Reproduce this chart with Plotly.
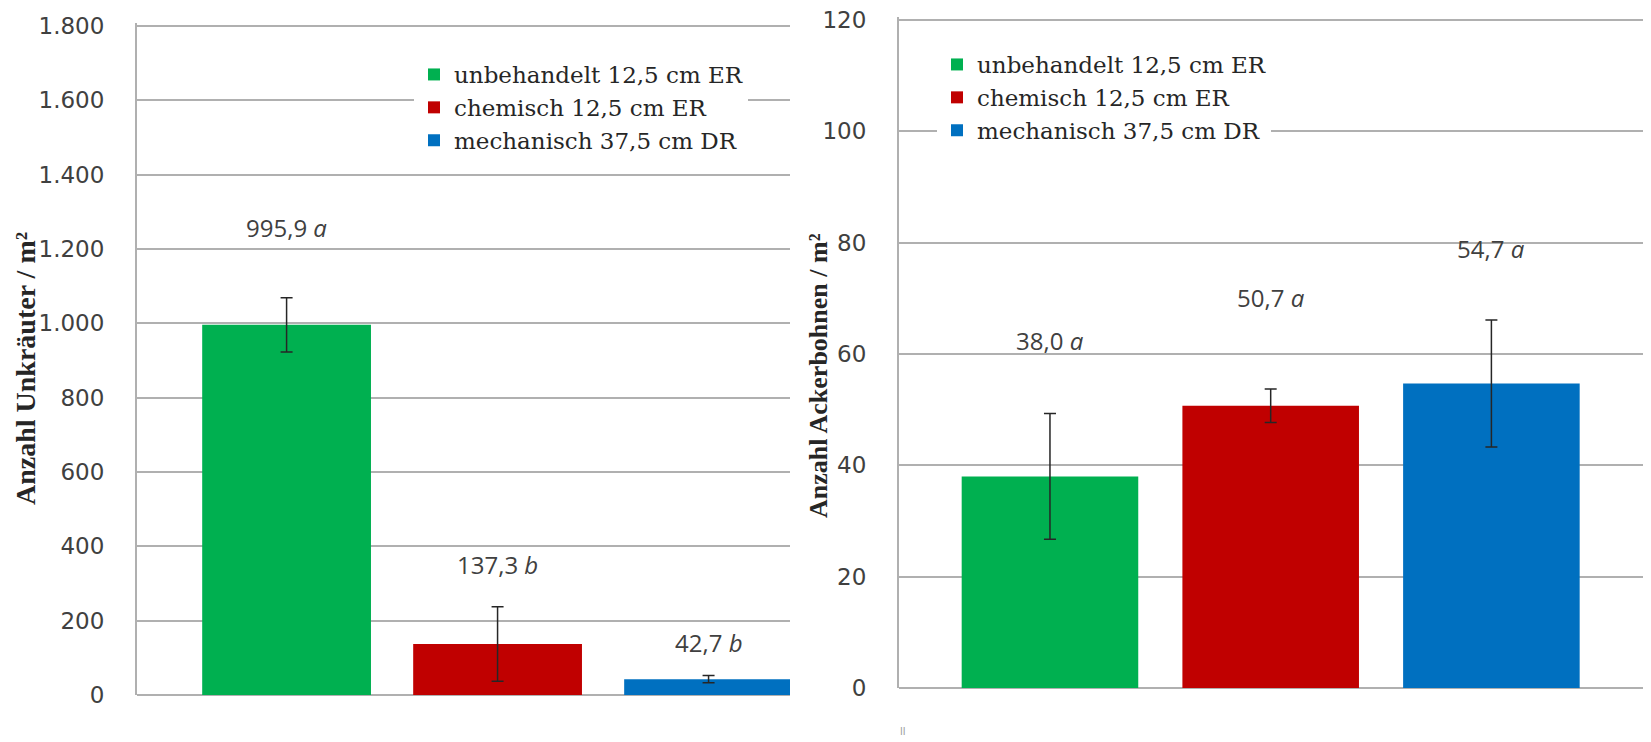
import plotly.graph_objects as go

# ---------------- data ----------------
treatments = ["unbehandelt 12,5 cm ER", "chemisch 12,5 cm ER", "mechanisch 37,5 cm DR"]
bar_colors = ["#00B050", "#C00000", "#0070C0"]

weeds_mean = [995.9, 137.3, 42.7]
weeds_err = [73, 100, 10]
weeds_letters = ["a", "b", "b"]

beans_mean = [38.0, 50.7, 54.7]
beans_err = [11.3, 3.0, 11.4]
beans_letters = ["a", "a", "a"]

weeds_ticks = [0, 200, 400, 600, 800, 1000, 1200, 1400, 1600, 1800]
beans_ticks = [0, 20, 40, 60, 80, 100, 120]

# label placement (layout, in axis units)
weeds_label_y = [1259, 350, 140]
beans_label_y = [62.5, 70.2, 79.0]

# page body has an 8px margin -> figure sized/offset to fill the window
OFF = 8
W, H = 1651 - OFF, 742 - OFF


def px(x):
    return (x - OFF) / W


def py(y):
    return 1 - (y - OFF) / H


GRID = "#B0B0B0"
TXT = "#404040"

fig = go.Figure()

for i, (name, col) in enumerate(zip(treatments, bar_colors)):
    fig.add_trace(go.Bar(
        x=[i], y=[weeds_mean[i]], name=name, marker=dict(color=col, line=dict(width=0)),
        width=0.8, xaxis="x", yaxis="y", legend="legend",
        error_y=dict(type="data", array=[weeds_err[i]], color="#262626", thickness=1.5, width=6),
    ))
for i, (name, col) in enumerate(zip(treatments, bar_colors)):
    fig.add_trace(go.Bar(
        x=[i], y=[beans_mean[i]], name=name, marker=dict(color=col, line=dict(width=0)),
        width=0.8, xaxis="x2", yaxis="y2", legend="legend2",
        error_y=dict(type="data", array=[beans_err[i]], color="#262626", thickness=1.5, width=6),
    ))


def fmt(v):
    return f"{v:.1f}".replace(".", ",")


annotations = []
for i in range(3):
    annotations.append(dict(
        x=i, y=weeds_label_y[i], xref="x", yref="y", showarrow=False,
        xanchor="center", yanchor="middle",
        text=f"{fmt(weeds_mean[i])} <i>{weeds_letters[i]}</i>",
        font=dict(family="Open Sans", size=24, color=TXT)))
    annotations.append(dict(
        x=i, y=beans_label_y[i], xref="x2", yref="y2", showarrow=False,
        xanchor="center", yanchor="middle",
        text=f"{fmt(beans_mean[i])} <i>{beans_letters[i]}</i>",
        font=dict(family="Open Sans", size=24, color=TXT)))

annotations.append(dict(
    x=px(25), y=py(369), xref="paper", yref="paper", showarrow=False, textangle=-90,
    xanchor="center", yanchor="middle",
    text="Anzahl Unkräuter / m²",
    font=dict(family="Liberation Serif", size=28, color="#262626", weight="bold")))
annotations.append(dict(
    x=px(818), y=py(376), xref="paper", yref="paper", showarrow=False, textangle=-90,
    xanchor="center", yanchor="middle",
    text="Anzahl Ackerbohnen / m²",
    font=dict(family="Liberation Serif", size=26, color="#262626", weight="bold")))
annotations.append(dict(
    x=px(903), y=py(731), xref="paper", yref="paper", showarrow=False,
    xanchor="center", yanchor="middle",
    text="ll", font=dict(family="DejaVu Sans", size=10, color="#9a9a9a")))

yaxis_common = dict(
    showgrid=True, gridcolor=GRID, gridwidth=2,
    showline=True, linecolor=GRID, linewidth=2,
    zeroline=True, zerolinecolor=GRID, zerolinewidth=2,
    ticks="", ticklabelstandoff=26, automargin=False, ticklabeloverflow="allow",
    tickfont=dict(family="DejaVu Sans", size=23, color=TXT),
    fixedrange=True,
)
xaxis_common = dict(showticklabels=False, showgrid=False, zeroline=False, showline=False,
                    ticks="", fixedrange=True, automargin=False)

legend_common = dict(
    xanchor="left", yanchor="top", bgcolor="white", borderwidth=0,
    itemwidth=30, tracegroupgap=0, traceorder="normal",
    font=dict(family="DejaVu Serif", size=23, color="#262626"),
)

# top of each value range is padded by a few pixels so the top gridline is drawn
PAD = 3
w_top_px, w_bot_px = 26, 695
b_top_px, b_bot_px = 20, 688
w_max = 1800 + PAD * 1800 / (w_bot_px - w_top_px)
b_max = 120 + PAD * 120 / (b_bot_px - b_top_px)

fig.update_layout(
    width=W, height=H,
    margin=dict(l=0, r=0, t=0, b=0, autoexpand=False),
    paper_bgcolor="white", plot_bgcolor="white",
    separators=",.",
    barmode="overlay",
    showlegend=True,
    xaxis=dict(domain=[px(137), px(790)], range=[-0.709, 2.386], **xaxis_common),
    yaxis=dict(domain=[py(w_bot_px), py(w_top_px - PAD)], range=[0, w_max],
               tickvals=weeds_ticks, tickformat=",d", anchor="x", **yaxis_common),
    xaxis2=dict(domain=[px(899), px(1647)], range=[-0.684, 2.705], anchor="y2", **xaxis_common),
    yaxis2=dict(domain=[py(b_bot_px), py(b_top_px - PAD)], range=[0, b_max],
                tickvals=beans_ticks, anchor="x2", **yaxis_common),
    legend=dict(x=px(414), y=py(53), **legend_common),
    legend2=dict(x=px(937), y=py(43), **legend_common),
    annotations=annotations,
)

fig.write_html("out.html")
